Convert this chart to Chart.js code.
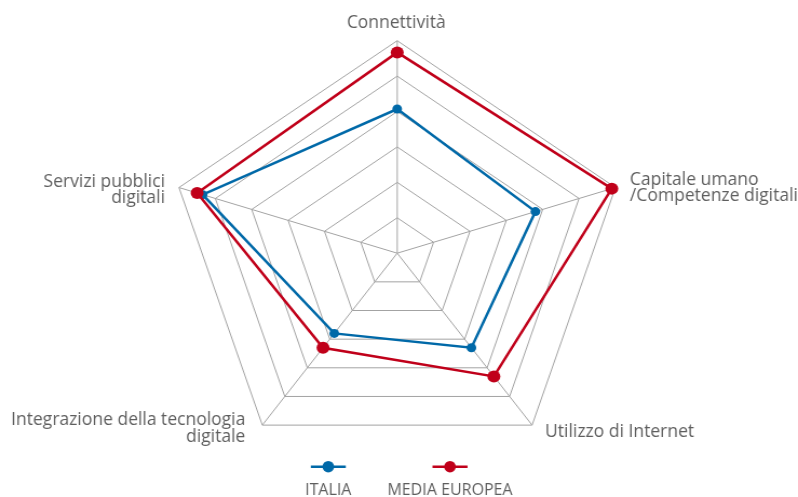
<!DOCTYPE html>
<html>
<head>
<meta charset="utf-8">
<script src="https://cdn.jsdelivr.net/npm/chart.js@4.4.0/dist/chart.umd.min.js"></script>
<style>
  html, body { margin: 0; padding: 0; background: #fff; overflow: hidden; }
  #wrap { width: 798px; height: 497px; position: relative; overflow: hidden; }
  #radar { position: absolute; left: 0; top: 0; transform-origin: 0 0; }
</style>
</head>
<body>
<div id="wrap"><canvas id="radar" width="739" height="497"></canvas></div>
<script>
const axisLabels = [
  'Connettività',
  ['Capitale umano', '/Competenze digitali'],
  'Utilizzo di Internet',
  ['Integrazione della tecnologia', 'digitale'],
  ['Servizi pubblici', 'digitali']
];
const italia = [4.07, 3.8, 3.3, 2.8, 5.35];
const mediaEuropea = [5.67, 5.9, 4.3, 3.3, 5.5];
const seriesNames = ['ITALIA', 'MEDIA EUROPEA'];
const scaleMin = 0;
const scaleMax = 6;
const scaleStep = 1;

const BLUE = '#0069a8';
const RED = '#c0001a';
const GRID = '#a3a3a3';
const TEXT = '#5e5e5e';

// the source picture is stretched sideways, so the canvas is drawn narrower and widened with css
const SX = 798 / 739;
const CX = 397.2 / SX;
const CY = 253.2;
const RADIUS = 212.5;

const canvas = document.getElementById('radar');

// axis names and the legend (symbol above the text), drawn with the x stretch undone
const textPlugin = {
  id: 'axisText',
  afterDraw(chart) {
    const s = chart.scales.r;
    const ctx = chart.ctx;
    const anchors = [
      { align: 'center', dx: -1, dy: -13 },
      { align: 'left', dx: 14.5, dy: -3 },
      { align: 'left', dx: 13, dy: 11.5 },
      { align: 'right', dx: -17, dy: 0 },
      { align: 'right', dx: -14, dy: -1 }
    ];
    ctx.save();
    ctx.scale(1 / SX, 1);
    ctx.fillStyle = TEXT;
    ctx.textBaseline = 'alphabetic';
    ctx.font = '17.5px "Open Sans"';
    axisLabels.forEach((label, i) => {
      const p = s.getPointPosition(i, s.drawingArea);
      const a = anchors[i];
      const lines = Array.isArray(label) ? label : [label];
      ctx.textAlign = a.align;
      lines.forEach((line, j) => {
        ctx.fillText(line, p.x * SX + a.dx, p.y + a.dy + j * 16.5);
      });
    });

    ctx.font = '16px "Open Sans"';
    ctx.textAlign = 'center';
    const legendX = [328.3, 450];
    chart.data.datasets.slice().sort((a, b) => a.legendIndex - b.legendIndex).forEach((ds, k) => {
      const x = legendX[k];
      ctx.strokeStyle = ds.borderColor;
      ctx.lineWidth = 2.5;
      ctx.beginPath();
      ctx.moveTo(x - 17.5, 466.7);
      ctx.lineTo(x + 17.5, 466.7);
      ctx.stroke();
      ctx.fillStyle = ds.borderColor;
      ctx.beginPath();
      ctx.arc(x, 466.7, 5.8, 0, Math.PI * 2);
      ctx.fill();
      ctx.fillStyle = TEXT;
      ctx.fillText(ds.label, x, 494.5);
    });
    ctx.restore();
  }
};

new Chart(canvas, {
  type: 'radar',
  data: {
    labels: axisLabels,
    datasets: [
      {
        label: seriesNames[0],
        legendIndex: 0,
        order: 1,
        data: italia,
        borderColor: BLUE,
        backgroundColor: BLUE,
        pointBackgroundColor: BLUE,
        borderWidth: 2.5,
        pointRadius: 4.5,
        pointBorderWidth: 0,
        fill: false
      },
      {
        label: seriesNames[1],
        legendIndex: 1,
        order: 0,
        data: mediaEuropea,
        borderColor: RED,
        backgroundColor: RED,
        pointBackgroundColor: RED,
        borderWidth: 2.5,
        pointRadius: 6,
        pointBorderWidth: 0,
        fill: false
      }
    ]
  },
  options: {
    responsive: false,
    animation: false,
    devicePixelRatio: 1,
    plugins: {
      legend: { display: false },
      tooltip: { enabled: false }
    },
    scales: {
      r: {
        min: scaleMin,
        max: scaleMax,
        ticks: { stepSize: scaleStep, display: false },
        grid: { color: GRID, lineWidth: 1 },
        angleLines: { color: GRID, lineWidth: 1 },
        pointLabels: { display: false },
        afterFit(scale) {
          scale.xCenter = CX;
          scale.yCenter = CY;
          scale.drawingArea = RADIUS;
        }
      }
    }
  },
  plugins: [textPlugin]
});

canvas.style.transform = 'scaleX(' + SX + ')';
</script>
</body>
</html>
